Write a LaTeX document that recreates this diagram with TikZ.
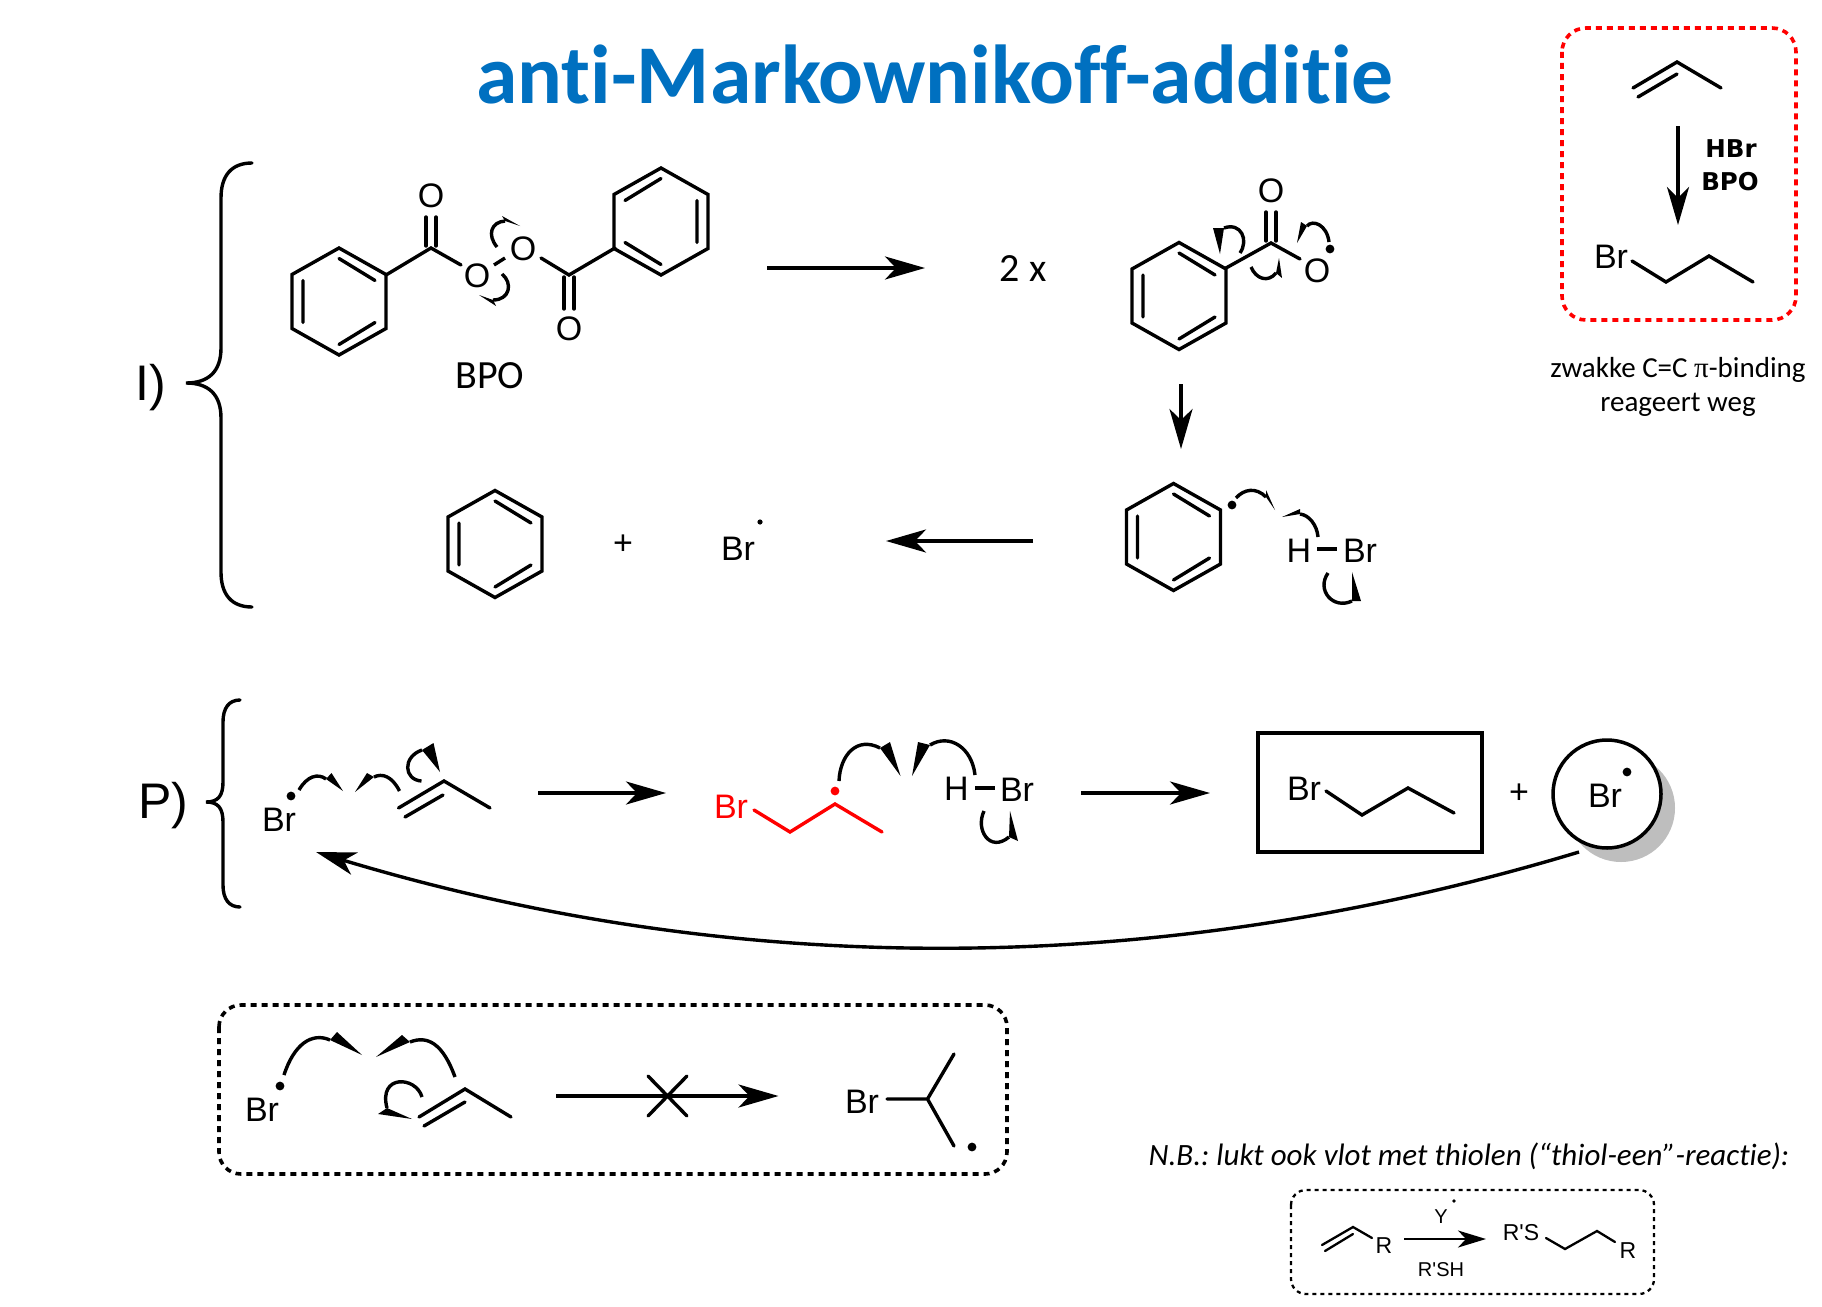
\documentclass[tikz,border=0pt]{standalone}
\usepackage{fontspec}
\setmainfont{Carlito}[Ligatures={NoCommon}]
\newfontfamily\chemf{Liberation Sans}
\newfontfamily\djvf{DejaVu Sans}
\newfontfamily\serf{Liberation Serif}
\usetikzlibrary{arrows.meta}
\definecolor{titleblue}{RGB}{0,112,192}
\definecolor{shadowgray}{RGB}{190,190,190}
\frenchspacing
\tikzset{
  bond/.style={line width=3.4pt,line cap=round,line join=miter},
  thinbond/.style={line width=2.3pt,line cap=round,line join=miter},
  fishl/.style={line width=3.4pt,line cap=butt},
  rxn/.style={line width=3.4pt,-{Stealth[length=40pt,width=23pt,inset=11pt]}},
  rxnsmall/.style={line width=2.3pt,-{Stealth[length=28pt,width=17pt,inset=8pt]}},
  chem/.style={font=\chemf\fontsize{34}{36}\selectfont,inner sep=0pt},
  chemsmall/.style={font=\chemf\fontsize{23}{24}\selectfont,inner sep=0pt},
  chemtiny/.style={font=\chemf\fontsize{20}{22}\selectfont,inner sep=0pt},
  cal/.style={font=\fontsize{40}{42}\selectfont,inner sep=0pt},
  note/.style={font=\fontsize{29}{34}\selectfont,inner sep=0pt},
  framebox/.style={line width=3.6pt,dash pattern=on 6pt off 5pt,rounded corners=22pt},
}
\newcommand\fish[6]{\draw[fishl] #1 .. controls #2 and #3 .. #4; \fill #4 -- #5 -- #6 -- cycle;}
\newcommand\hexa{\draw[bond] (0,-53.5) -- (47,-27) -- (47,27) -- (0,53.5) -- (-47,27) -- (-47,-27) -- cycle;}
\newcommand\benzL[2]{\begin{scope}[shift={(#1,#2)}]\hexa
  \draw[bond] (0,-43) -- (36,-21) (-36,-21) -- (-36,21) (0,43) -- (36,21);\end{scope}}
\newcommand\benzR[2]{\begin{scope}[shift={(#1,#2)}]\hexa
  \draw[bond] (0,-43) -- (-36,-21) (36,-21) -- (36,21) (0,43) -- (-36,21);\end{scope}}
\newcommand\rad[3][black]{\fill[#1] (#2,#3) circle[radius=4.4];}
\begin{document}
\begin{tikzpicture}[x=1pt,y=-1pt]
\useasboundingbox (0,0) rectangle (1822,1306);
\fill[white] (0,0) rectangle (1822,1306);

% title
\node (title) [inner sep=0pt,text=titleblue,font=\bfseries\fontsize{83.6}{90}\selectfont] at (935,74) {anti-Markownikoff-additie};

% brace I
\draw[bond] (252,163) .. controls (232,163) and (221,175) .. (221,198) -- (221,348) .. controls (221,372) and (208,383) .. (186,383) .. controls (208,383) and (221,394) .. (221,418) -- (221,572) .. controls (221,595) and (232,607) .. (252,607);
\node (labI) [inner sep=0pt,font=\chemf\fontsize{50}{54}\selectfont] at (151,388) {I)};

% BPO
\benzL{339}{301.5}
\benzR{661}{221.5}
\draw[bond] (386,275) -- (431,248) -- (461,265);
\draw[bond] (426,217) -- (426,246) (436,217) -- (436,246);
\node (oa) [chem] at (431,196) {O};
\node (ob) [chem] at (477,276) {O};
\draw[bond,line cap=butt] (494,265) -- (505,258);
\node (oc) [chem] at (523,249) {O};
\draw[bond] (541,258) -- (569,275) -- (615,248);
\draw[bond] (564,277) -- (564,309) (574,277) -- (574,309);
\node (od) [chem] at (569,329) {O};
\node (bpo) [cal] at (490,376) {BPO};
\fish{(497,247)}{(487,235)}{(491,222)}{(505,221)}{(502,216)}{(520,226)}
\fish{(502,274)}{(513,283)}{(510,300)}{(493,300)}{(496,306)}{(479,295)}

\coordinate (a1s) at (767,268);
\coordinate (a1e) at (925,268);
\draw[rxn] (a1s) -- (a1e);
\node (twox) [cal] at (1023,269) {2 x};

% benzoyloxy radical
\benzL{1179}{296}
\draw[bond] (1226,268) -- (1271,243) -- (1300,259);
\draw[bond] (1266,212) -- (1266,241) (1276,212) -- (1276,241);
\node (oe) [chem] at (1271,191) {O};
\node (of) [chem] at (1317,271) {O};
\rad{1330}{249}
\fish{(1240,253)}{(1249,240)}{(1241,222)}{(1224,228)}{(1213,228)}{(1220,254)}
\fish{(1251,267)}{(1256,279)}{(1268,283)}{(1276,273)}{(1282,278)}{(1279,258)}
\fish{(1329,242)}{(1327,225)}{(1313,219)}{(1307,226)}{(1301,222)}{(1297,243)}

\coordinate (a2s) at (1181,384);
\coordinate (a2e) at (1181,449);
\draw[rxn] (a2s) -- (a2e);

% phenyl + HBr
\benzL{1173.5}{537}
\rad{1232}{505}
\fish{(1236,498)}{(1244,489)}{(1256,487)}{(1266,497)}{(1266,490)}{(1275,510)}
\fish{(1318,537)}{(1317,525)}{(1309,515)}{(1300,514)}{(1300,509)}{(1282,517)}
\node (h1) [chem] at (1299,551) {H};
\draw[bond,line cap=butt] (1317,549) -- (1337,549);
\node (br1) [chem] at (1360,551) {Br};
\fish{(1328,573)}{(1316,590)}{(1333,610)}{(1352,601)}{(1361,601)}{(1352,572)}

\coordinate (a3s) at (1033,541);
\coordinate (a3e) at (886,541);
\draw[rxn] (a3s) -- (a3e);
\benzL{495}{544}
\node (plus1) [chem] at (623,545) {+};
\node (br2) [chem] at (738,549) {Br};
\fill (760,522) circle[radius=2.6];

% brace P
\draw[bond] (240,700) .. controls (229,700) and (223,708) .. (223,722) -- (223,782) .. controls (223,796) and (218,802) .. (206,802) .. controls (218,802) and (223,808) .. (223,822) -- (223,885) .. controls (223,899) and (229,907) .. (240,907);
\node (labP) [inner sep=0pt,font=\chemf\fontsize{50}{54}\selectfont] at (163,806) {P)};

% propagation 1
\node (br3) [chem] at (279,820) {Br};
\rad{291}{796}
\fish{(299,790)}{(307,776)}{(318,773)}{(326,779)}{(331.5,773)}{(343,791)}
\fish{(399.5,791)}{(392,776)}{(382,773)}{(374,777)}{(367,773)}{(355,792)}
\fish{(421.5,781)}{(404,780)}{(402,757)}{(422,750)}{(433.5,743)}{(440,772)}
\draw[bond] (398.5,808) -- (444,781) -- (490,808);
\draw[bond] (405,817) -- (443,795);

\coordinate (a4s) at (538,793);
\coordinate (a4e) at (666,793);
\draw[rxn] (a4s) -- (a4e);

% red radical + HBr
\node (br4) [chem,text=red] at (731,807) {Br};
\draw[bond,red] (754,810) -- (790,832) -- (835,804) -- (882,832);
\rad[red]{835}{791}
\fish{(839,781)}{(840,755)}{(857,736)}{(880,748)}{(890,742)}{(900.5,776)}
\fish{(975,775)}{(972,748)}{(950,733)}{(930,745)}{(918,742)}{(912,776)}
\node (h2) [chem] at (956.5,789) {H};
\draw[bond,line cap=butt] (975,788) -- (995,788);
\node (br5) [chem] at (1017,790) {Br};
\fish{(984,811)}{(975,830)}{(990,853)}{(1009,837)}{(1018,841)}{(1010,811)}

\coordinate (a5s) at (1081,793);
\coordinate (a5e) at (1210,793);
\draw[rxn] (a5s) -- (a5e);

% product box
\draw[line width=3.5pt] (1258,733) rectangle (1482,852);
\node (br6) [chem] at (1304,789) {Br};
\draw[bond] (1326,791) -- (1362,815) -- (1408,788) -- (1454,813);
\node (plus2) [chem] at (1519,794) {+};

% circled radical
\fill[shadowgray] (1621,808) circle[radius=54];
\draw[line width=3.5pt,fill=white] (1607,794) circle[radius=54];
\node (br7) [chem] at (1605,796) {Br};
\rad{1627}{772}

% return arrow
\coordinate (a6s) at (1579,852);
\coordinate (a6e) at (316,852);
\draw[rxn] (a6s) .. controls (1158,979) and (737,979) .. (a6e);

% dashed box: blocked route
\draw[framebox] (219,1005) rectangle (1007,1174);
\node (br8) [chem] at (262,1110) {Br};
\rad{280}{1086}
\fish{(284,1075)}{(294,1044)}{(312,1032)}{(330,1040)}{(337,1032)}{(362,1055)}
\fish{(455,1077)}{(443,1044)}{(428,1035)}{(410,1042)}{(402,1035)}{(376,1057)}
\fish{(422,1097)}{(416,1076)}{(378,1074)}{(387,1108)}{(378,1114)}{(412,1119)}
\draw[bond] (419,1117) -- (465,1089) -- (511,1117);
\draw[bond] (424,1126) -- (465,1102);
\coordinate (a7s) at (556,1096);
\coordinate (a7e) at (778.5,1096);
\draw[rxn] (a7s) -- (a7e);
\draw[bond] (648,1076) -- (687,1116) (687,1076) -- (648,1116);
\node (br9) [chem] at (862,1102) {Br};
\draw[bond] (887,1099) -- (927.5,1099) -- (954,1054) (927.5,1099) -- (954,1146);
\rad{972}{1147}

% summary box
\draw[framebox,red,rounded corners=24pt] (1562,28) rectangle (1796,320);
\draw[bond] (1633,88) -- (1677,62) -- (1721,88);
\draw[bond] (1638,97) -- (1677,74);
\coordinate (a8s) at (1678,126);
\coordinate (a8e) at (1678,225);
\draw[rxn,-{Stealth[length=38pt,width=22pt,inset=11pt]}] (a8s) -- (a8e);
\node (hbr) [inner sep=0pt,font=\djvf\bfseries\fontsize{24.5}{27}\selectfont] at (1731,149) {HBr};
\node (bpob) [inner sep=0pt,font=\djvf\bfseries\fontsize{24.5}{27}\selectfont] at (1730,182) {BPO};
\node (br10) [chem] at (1611,257) {Br};
\draw[bond] (1632,261) -- (1666,282) -- (1709,256) -- (1753,282);
\node (n1) [note] at (1678,370) {zwakke C=C {\serf π}-binding};
\node (n2) [note] at (1678,405) {reageert weg};

% N.B.
\node (nb) [note,font=\itshape\fontsize{31}{34}\selectfont] at (1469,1156) {N.B.: lukt ook vlot met thiolen (“thiol-een”-reactie):};
\draw[line width=2.3pt,dash pattern=on 4pt off 4pt,rounded corners=15pt] (1291,1190) rectangle (1654,1294);
\draw[thinbond] (1322,1245) -- (1353,1227) -- (1372,1238);
\draw[thinbond] (1325,1251) -- (1353,1234);
\node (r1) [chemsmall] at (1384,1246) {R};
\coordinate (a9s) at (1404,1239);
\coordinate (a9e) at (1486,1239);
\draw[rxnsmall] (a9s) -- (a9e);
\node (y) [chemtiny] at (1441,1217) {Y};
\fill (1454,1201) circle[radius=1.8];
\node (rsh) [chemtiny] at (1441,1270) {R'SH};
\node (rs) [chemsmall] at (1521,1233) {R'S};
\draw[thinbond] (1546,1238) -- (1565,1249) -- (1597,1231) -- (1615,1242);
\node (r2) [chemsmall] at (1628,1251) {R};
\end{tikzpicture}
\end{document}
